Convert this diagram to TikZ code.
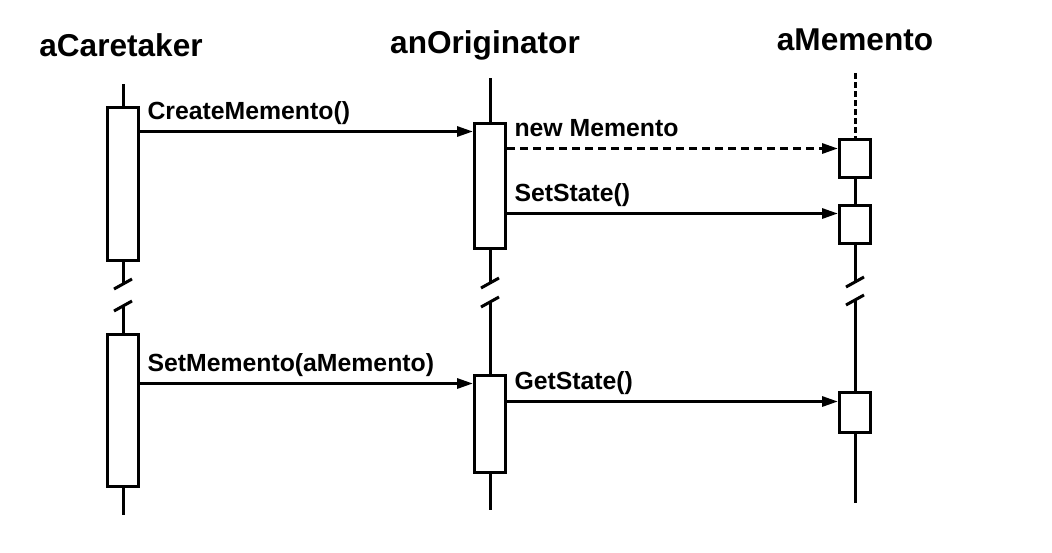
\documentclass[tikz,border=0pt]{standalone}
\usepackage{fontspec}
\setsansfont{Liberation Sans}
\usepackage{tikz}
\usetikzlibrary{arrows.meta,positioning}
\tikzset{
  life/.style={line width=1.5pt},
  lbox/.style={rectangle,draw,line width=1.5pt,fill=white,minimum width=15.5pt,inner sep=0pt},
  msg/.style={-{Triangle[length=8pt,width=5pt]},line width=1.5pt},
  lbl/.style={font=\sffamily\bfseries\fontsize{12.4}{15}\selectfont,inner sep=0pt,anchor=base west,pos=0,xshift=3pt,yshift=6pt},
  ttl/.style={font=\sffamily\bfseries\fontsize{15.8}{19}\selectfont,inner sep=0pt,anchor=base}
}

\begin{document}
\begin{tikzpicture}[x=0.5pt,y=-0.5pt]
\useasboundingbox[fill=white] (0,0) rectangle (1052,552);
\node[ttl] (care) at (121,56) {aCaretaker};
\node[ttl] (orig) at (485,53) {anOriginator};
\node[ttl] (mem) at (855,50) {aMemento};
\node[lbox,minimum height=76.5pt] (cb1) at (123,183.5) {};
\node[lbox,minimum height=76pt] (cb2) at (123,410) {};
\node[lbox,minimum height=62.5pt] (ob1) at (490,185.5) {};
\node[lbox,minimum height=48.5pt] (ob2) at (490,423.5) {};
\node[lbox,minimum height=19pt] (mb1) at (855,158) {};
\node[lbox,minimum height=19pt] (mb2) at (855,224) {};
\node[lbox,minimum height=20pt] (mb3) at (855,412) {};
\coordinate (ctop) at (123,84);
\coordinate (cbrkA) at (123,284);
\coordinate (cbrkB) at (123,306);
\coordinate (cend) at (123,515);
\coordinate (otop) at (490,78);
\coordinate (obrkA) at (490,283);
\coordinate (obrkB) at (490,302);
\coordinate (oend) at (490,510);
\coordinate (mtop) at (855,73);
\coordinate (mbrkA) at (855,282);
\coordinate (mbrkB) at (855,300);
\coordinate (mend) at (855,503);
\draw[life] (ctop) -- (cb1.north) (cb1.south) -- (cbrkA) (cbrkB) -- (cb2.north) (cb2.south) -- (cend);
\draw[life] (otop) -- (ob1.north) (ob1.south) -- (obrkA) (obrkB) -- (ob2.north) (ob2.south) -- (oend);
\draw[life,dash pattern=on 3pt off 1.5pt] (mtop) -- (mb1.north);
\draw[life] (mb1.south) -- (mb2.north) (mb2.south) -- (mbrkA) (mbrkB) -- (mb3.north) (mb3.south) -- (mend);
\foreach \p in {cbrkA,cbrkB,obrkA,obrkB,mbrkA,mbrkB}
  \draw[life] ([shift={(-9,5)}]\p) -- ([shift={(9,-5)}]\p);
\draw[msg] ([yshift=-5pt]ob1.north west -| cb1.east) -- node[lbl]{CreateMemento()} ([yshift=-5pt]ob1.north west);
\draw[msg,dash pattern=on 4pt off 2.5pt] ([yshift=-5.5pt]mb1.north west -| ob1.east) -- node[lbl]{new Memento} ([yshift=-5.5pt]mb1.north west);
\draw[msg] ([yshift=-5pt]mb2.north west -| ob1.east) -- node[lbl]{SetState()} ([yshift=-5pt]mb2.north west);
\draw[msg] ([yshift=-5pt]ob2.north west -| cb2.east) -- node[lbl]{SetMemento(aMemento)} ([yshift=-5pt]ob2.north west);
\draw[msg] ([yshift=-5.5pt]mb3.north west -| ob2.east) -- node[lbl]{GetState()} ([yshift=-5.5pt]mb3.north west);
\end{tikzpicture}
\end{document}
